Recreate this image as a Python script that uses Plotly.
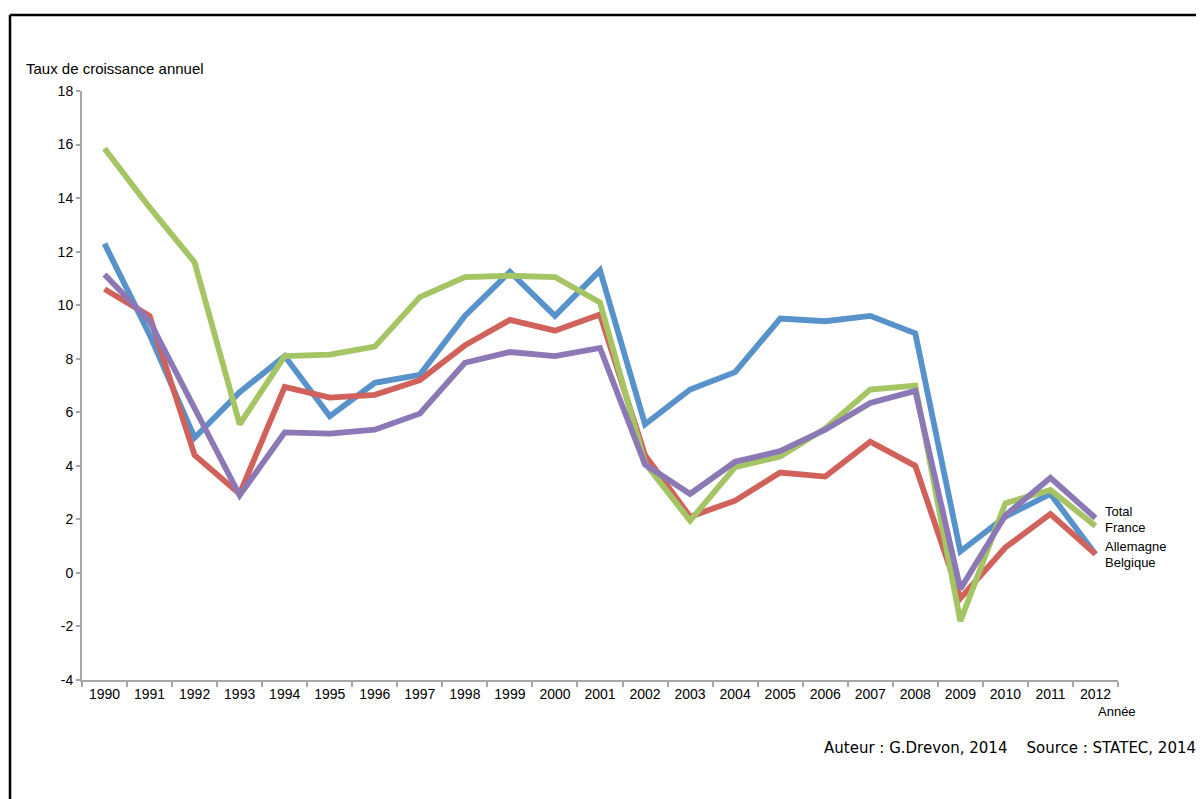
import plotly.graph_objects as go

years = [str(y) for y in range(1990, 2013)]

allemagne = [12.3, 8.9, 5.05, 6.75, 8.1, 5.85, 7.1, 7.4, 9.6, 11.25, 9.6, 11.3,
             5.55, 6.85, 7.5, 9.5, 9.4, 9.6, 8.95, 0.8, 2.1, 2.95, 0.7]
belgique = [10.6, 9.6, 4.4, 2.95, 6.95, 6.55, 6.65, 7.2, 8.5, 9.45, 9.05, 9.65,
            4.4, 2.1, 2.7, 3.75, 3.6, 4.9, 4.0, -0.95, 0.95, 2.2, 0.7]
france = [15.85, 13.65, 11.6, 5.55, 8.1, 8.15, 8.45, 10.3, 11.05, 11.1, 11.05, 10.1,
          4.1, 1.95, 3.95, 4.35, 5.4, 6.85, 7.0, -1.8, 2.6, 3.1, 1.75]
total = [11.15, 9.4, 6.15, 2.9, 5.25, 5.2, 5.35, 5.95, 7.85, 8.25, 8.1, 8.4,
         4.05, 2.95, 4.15, 4.55, 5.35, 6.35, 6.8, -0.6, 2.15, 3.55, 2.05]

series_names = ["Allemagne", "Belgique", "France", "Total"]
series_values = [allemagne, belgique, france, total]
series_colors = ["#5793CA", "#D0625B", "#A5C564", "#8B78B5"]
label_names = ["Total", "France", "Allemagne", "Belgique"]
label_y = [2.28, 1.68, 1.0, 0.4]
y_ticks = list(range(-4, 19, 2))
y_tick_text = [str(v) for v in y_ticks]

FONT = "Liberation Sans, Arial"

fig = go.Figure()
for name, vals, col in zip(series_names, series_values, series_colors):
    fig.add_trace(go.Scatter(x=years, y=vals, mode="lines", name=name,
                             line=dict(color=col, width=5.8), showlegend=False))

last_idx = len(years) - 1
for name, yv in zip(label_names, label_y):
    fig.add_annotation(x=last_idx, y=yv, xref="x", yref="y", text=name,
                       showarrow=False, xanchor="left", xshift=9, borderpad=0,
                       font=dict(family=FONT, size=13, color="#000"))

fig.add_annotation(x=0, y=1.0, xref="paper", yref="paper", text="Taux de croissance annuel",
                   showarrow=False, xanchor="left", yanchor="middle", xshift=-58, yshift=23,
                   font=dict(family=FONT, size=15, color="#000"))
fig.add_annotation(x=1.0, y=0, xref="paper", yref="paper", text="Année",
                   showarrow=False, xanchor="center", yanchor="middle", xshift=-1, yshift=-31,
                   font=dict(family=FONT, size=13, color="#000"))
fig.add_annotation(x=0, y=0, xref="paper", yref="paper",
                   text="Auteur : G.Drevon, 2014    Source : STATEC, 2014",
                   showarrow=False, xanchor="left", yanchor="middle", xshift=740, yshift=-68,
                   font=dict(family="DejaVu Sans", size=15, color="#000"))

fig.add_shape(type="line", xref="paper", yref="paper", x0=-0.0695, x1=1.3, y0=1.129, y1=1.129,
              line=dict(color="#000", width=2.5))
fig.add_shape(type="line", xref="paper", yref="paper", x0=-0.0695, x1=-0.0695, y0=1.129, y1=-0.4,
              line=dict(color="#000", width=2.5))

fig.update_xaxes(type="category", range=[-0.5, len(years) - 0.5], autorange=False,
                 showline=True, linecolor="#A6A6A6", linewidth=2,
                 ticks="outside", tickson="boundaries", ticklen=5, tickcolor="#A6A6A6",
                 tickwidth=1.5, showgrid=False, zeroline=False, tickangle=0,
                 tickfont=dict(family=FONT, size=14, color="#000"))
fig.update_yaxes(range=[-4, 18], autorange=False, tickvals=y_ticks, ticktext=y_tick_text,
                 showline=True, linecolor="#A6A6A6", linewidth=2,
                 ticks="outside", ticklen=4, tickcolor="#A6A6A6", tickwidth=1.5,
                 showgrid=False, zeroline=False,
                 tickfont=dict(family=FONT, size=14, color="#000"))

fig.update_layout(width=1196, height=791, plot_bgcolor="white", paper_bgcolor="white",
                  margin=dict(l=74, r=86, t=83, b=119), showlegend=False)

fig.write_html("out.html")
